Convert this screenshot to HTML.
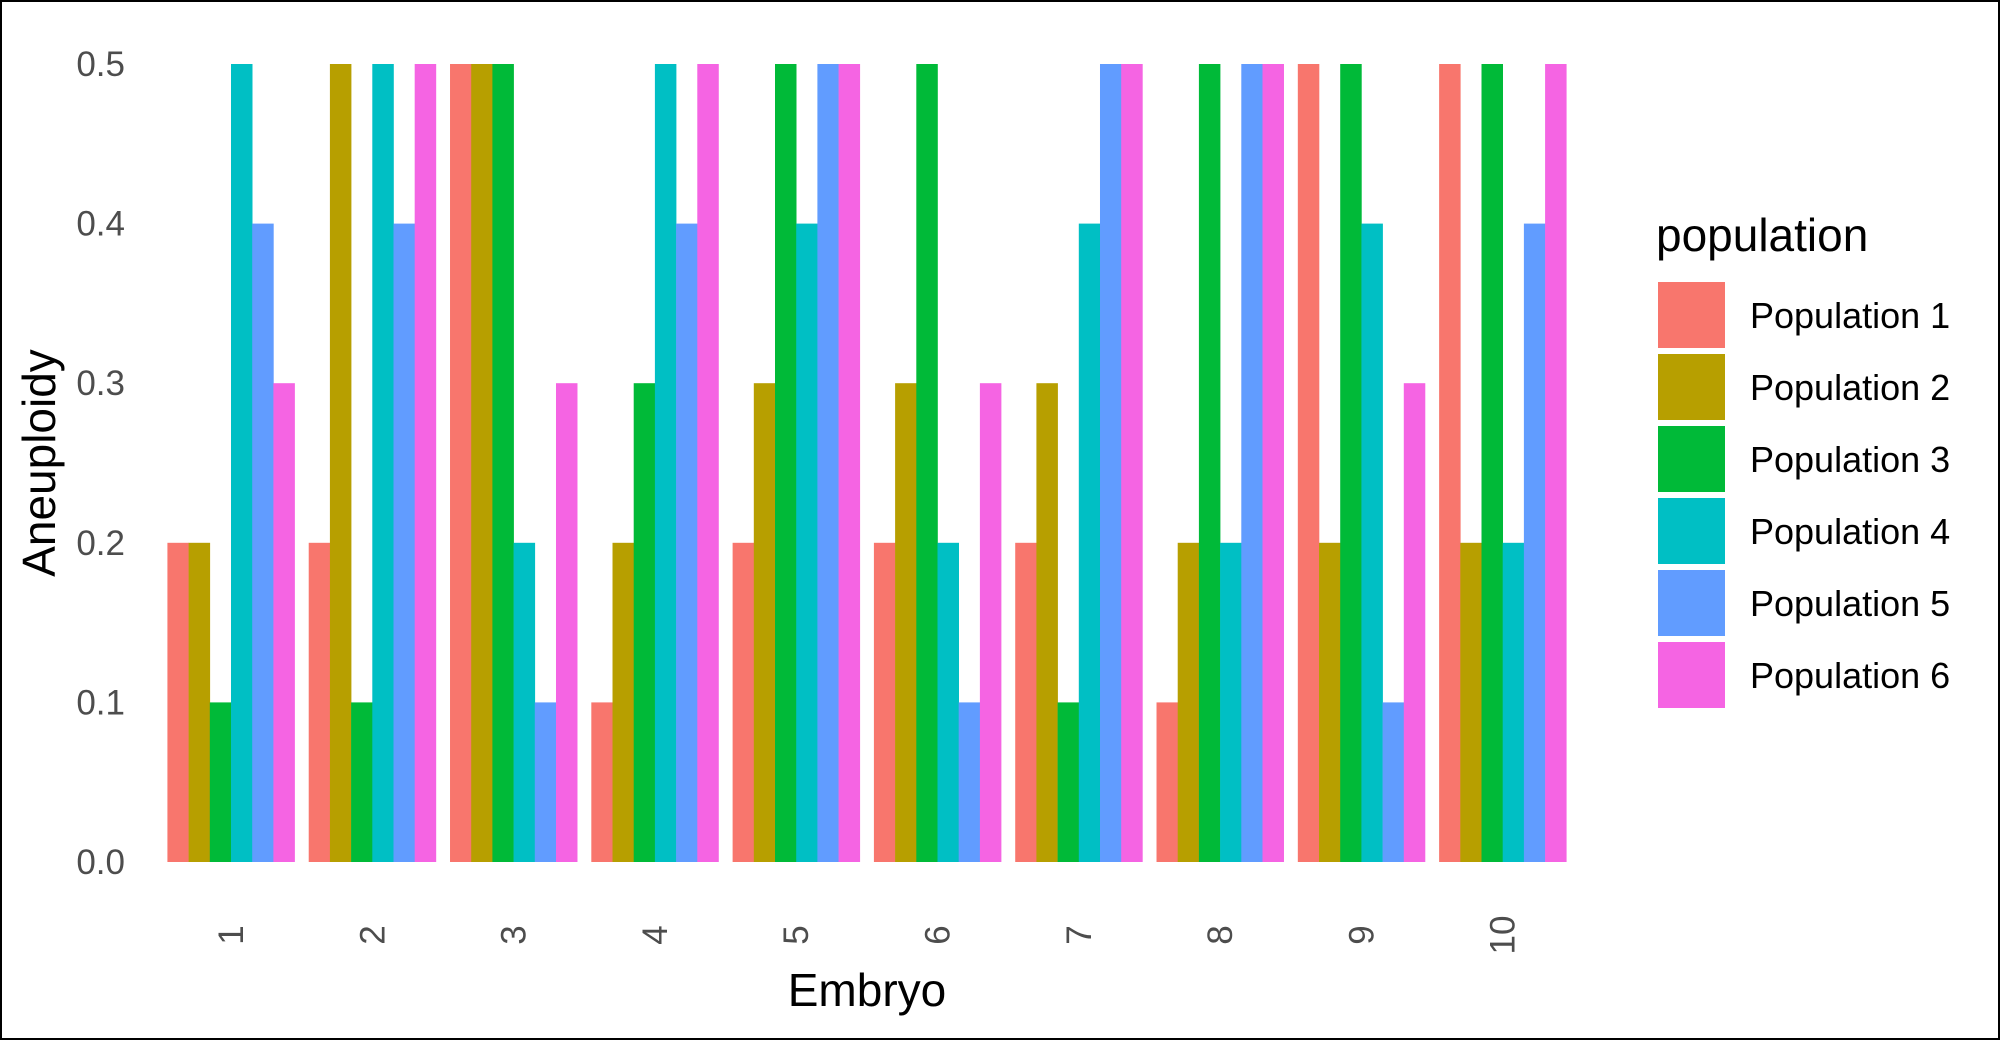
<!DOCTYPE html>
<html><head><meta charset="utf-8"><style>
html,body{margin:0;padding:0;background:#fff}
svg{display:block}
text{font-family:"Liberation Sans",Arial,sans-serif}
</style></head><body>
<svg id="chart" width="2000" height="1040" viewBox="0 0 2000 1040">
<rect x="1" y="1" width="1998" height="1038" fill="#fff" stroke="#000" stroke-width="2"/>
<g id="yaxis"></g>
<g id="bars"></g>
<g id="xaxis"></g>
<text x="867" y="1006" font-size="46" text-anchor="middle" fill="#000">Embryo</text>
<text transform="translate(55,463) rotate(-90)" font-size="46" text-anchor="middle" fill="#000">Aneuploidy</text>
<g id="legend">
<text x="1656" y="251" font-size="46" fill="#000">population</text>
</g>
</svg>
<script>
const categories = ["1","2","3","4","5","6","7","8","9","10"];
const seriesNames = ["Population 1","Population 2","Population 3","Population 4","Population 5","Population 6"];
const pop1 = [0.2,0.2,0.5,0.1,0.2,0.2,0.2,0.1,0.5,0.5];
const pop2 = [0.2,0.5,0.5,0.2,0.3,0.3,0.3,0.2,0.2,0.2];
const pop3 = [0.1,0.1,0.5,0.3,0.5,0.5,0.1,0.5,0.5,0.5];
const pop4 = [0.5,0.5,0.2,0.5,0.4,0.2,0.4,0.2,0.4,0.2];
const pop5 = [0.4,0.4,0.1,0.4,0.5,0.1,0.5,0.5,0.1,0.4];
const pop6 = [0.3,0.5,0.3,0.5,0.5,0.3,0.5,0.5,0.3,0.5];
const yTicks = [0,0.1,0.2,0.3,0.4,0.5];
const yTickLabels = ["0.0","0.1","0.2","0.3","0.4","0.5"];
const colors = ["#F8766D","#B79F00","#00BA38","#00BFC4","#619CFF","#F564E3"];
const series = [pop1,pop2,pop3,pop4,pop5,pop6];
const NS = "http://www.w3.org/2000/svg";
const y0 = 862, yTop = 64;
const yScale = v => y0 - (v/0.5)*(y0-yTop);
const c0 = 231, step = 141.3;
const xCenter = i => c0 + i*step;
const groupW = 0.9*step, barW = groupW/series.length;
function mk(tag, attrs, parent){const e=document.createElementNS(NS,tag);for(const k in attrs)e.setAttribute(k,attrs[k]);parent.appendChild(e);return e;}
const yax=document.getElementById('yaxis');
yTicks.forEach((t,i)=>{
  const e=mk('text',{x:125,y:yScale(t)+12,'font-size':35,'text-anchor':'end',fill:'#4d4d4d'},yax);
  e.textContent=yTickLabels[i];
  
  
});
const bars=document.getElementById('bars');
categories.forEach((c,i)=>{
  series.forEach((s,j)=>{
    const x=xCenter(i)-groupW/2+j*barW;
    const r=mk('rect',{x:x,y:yScale(s[i]),width:barW+0.3,height:y0-yScale(s[i]),fill:colors[j]},bars);
    
    
  });
});
const xax=document.getElementById('xaxis');
categories.forEach((c,i)=>{
  const e=mk('text',{transform:`translate(${xCenter(i)+12},${935}) rotate(-90)`,'font-size':35,'text-anchor':'middle',fill:'#4d4d4d'},xax);
  e.textContent=c;
  
  
});
const leg=document.getElementById('legend');
seriesNames.forEach((n,j)=>{
  const y=282+j*72;
  const r=mk('rect',{x:1658,y:y,width:67,height:66,fill:colors[j]},leg);
  
  
  const t=mk('text',{x:1750,y:y+46,'font-size':36,fill:'#000'},leg);
  t.textContent=n;
  
  
});
</script>
</body></html>
